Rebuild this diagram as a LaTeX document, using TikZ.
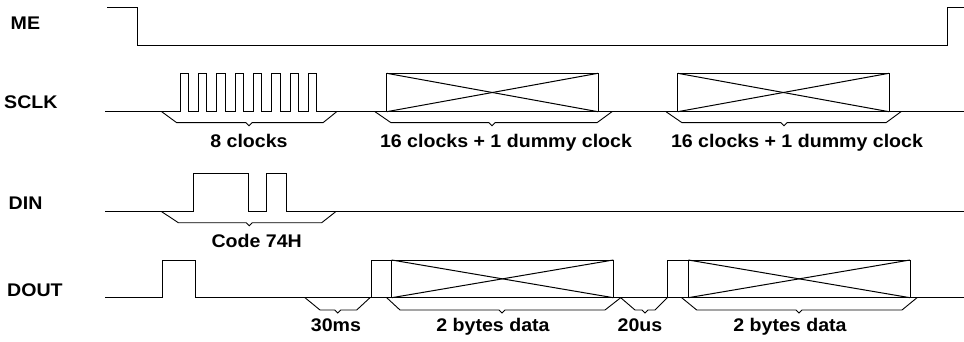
\documentclass[tikz,border=0pt]{standalone}
\usepackage{fontspec}
\setmainfont{Liberation Sans}[FakeStretch=1.07]
\usepackage{tikz}

\tikzset{
	wave/.style={line width=1pt, line join=miter},
	brace/.style={line width=0.9pt},
	signame/.style={font=\bfseries\fontsize{18.3}{21}\selectfont, inner sep=0pt, anchor=base west},
	tag/.style={font=\bfseries\fontsize{18.3}{21}\selectfont, inner sep=0pt, anchor=base}
}

\begin{document}
\begin{tikzpicture}[x=1pt, y=-1pt]
	\useasboundingbox (0, 0) rectangle (964, 342);

	% signal names
	\node (ME) at (10.5, 30) [signame] {ME};
	\node (SCLK) at (4, 109) [signame] {SCLK};
	\node (DIN) at (8.5, 209) [signame] {DIN};
	\node (DOUT) at (7, 296.7) [signame] {DOUT};

	% ME
	\draw [wave] (107, 7.3) -- (137, 7.3) -- (137, 46) -- (947.3, 46) -- (947.3, 7.3) -- (964, 7.3);

	% SCLK
	\draw [wave] (105, 111.7) -- (180, 111.7)
		-- (180, 73.3) -- (188.3, 73.3) -- (188.3, 111.7) -- (198.3, 111.7)
		-- (198.3, 73.3) -- (206.7, 73.3) -- (206.7, 111.7) -- (216.7, 111.7)
		-- (216.7, 73.3) -- (225, 73.3) -- (225, 111.7) -- (235, 111.7)
		-- (235, 73.3) -- (243.3, 73.3) -- (243.3, 111.7) -- (253.3, 111.7)
		-- (253.3, 73.3) -- (261.7, 73.3) -- (261.7, 111.7) -- (271.7, 111.7)
		-- (271.7, 73.3) -- (280, 73.3) -- (280, 111.7) -- (290, 111.7)
		-- (290, 73.3) -- (298.3, 73.3) -- (298.3, 111.7) -- (308.3, 111.7)
		-- (308.3, 73.3) -- (316.7, 73.3) -- (316.7, 111.7) -- (964, 111.7);
	\draw [wave] (386.7, 73.3) rectangle (598, 111.7);
	\draw [wave] (386.7, 73.3) -- (598, 111.7);
	\draw [wave] (386.7, 111.7) -- (598, 73.3);
	\draw [wave] (677.7, 73.3) rectangle (889, 111.7);
	\draw [wave] (677.7, 73.3) -- (889, 111.7);
	\draw [wave] (677.7, 111.7) -- (889, 73.3);

	\draw [brace] (161.7, 111.7) -- (176.7, 122.7) -- (246, 122.7) -- (249, 125.7) -- (252, 122.7) -- (323, 122.7) -- (336.7, 111.7);
	\draw [brace] (375, 111.7) -- (391, 122.7) -- (489, 122.7) -- (492, 125.7) -- (495, 122.7) -- (597, 122.7) -- (612, 111.7);
	\draw [brace] (666, 111.7) -- (682, 122.7) -- (781, 122.7) -- (784, 125.7) -- (787, 122.7) -- (886, 122.7) -- (901, 111.7);
	\node (clk8) at (249, 147.5) [tag] {8 clocks};
	\node (clk16a) at (506, 147.5) [tag] {16 clocks + 1 dummy clock};
	\node (clk16b) at (797, 147.5) [tag] {16 clocks + 1 dummy clock};

	% DIN
	\draw [wave] (105, 211.7) -- (193.3, 211.7) -- (193.3, 173.3) -- (248.3, 173.3) -- (248.3, 211.7)
		-- (266.7, 211.7) -- (266.7, 173.3) -- (286.7, 173.3) -- (286.7, 211.7) -- (964, 211.7);
	\draw [brace] (161.7, 211.7) -- (178.3, 222.7) -- (246.3, 222.7) -- (249.3, 225.7) -- (252.3, 222.7) -- (321.7, 222.7) -- (335.7, 211.7);
	\node (code) at (256.7, 247.5) [tag] {Code 74H};

	% DOUT
	\draw [wave] (105, 297.7) -- (162.3, 297.7) -- (162.3, 260) -- (195.7, 260) -- (195.7, 297.7) -- (964, 297.7);
	\draw [wave] (371, 260) rectangle (613.3, 297.7);
	\draw [wave] (391.7, 260) -- (391.7, 297.7);
	\draw [wave] (391.7, 260) -- (613.3, 297.7);
	\draw [wave] (391.7, 297.7) -- (613.3, 260);
	\draw [wave] (667.7, 260) rectangle (910, 297.7);
	\draw [wave] (688.3, 260) -- (688.3, 297.7);
	\draw [wave] (688.3, 260) -- (910, 297.7);
	\draw [wave] (688.3, 297.7) -- (910, 260);

	\draw [brace] (305, 297.7) -- (320, 310) -- (334.7, 310) -- (337.7, 313) -- (340.7, 310) -- (356.7, 310) -- (370, 297.7);
	\draw [brace] (386.7, 297.7) -- (400, 310) -- (499, 310) -- (502, 313) -- (505, 310) -- (605, 310) -- (620.7, 297.7);
	\draw [brace] (620.7, 297.7) -- (635, 310) -- (642, 310) -- (645, 313) -- (648, 310) -- (655, 310) -- (667.3, 297.7);
	\draw [brace] (681.7, 297.7) -- (696.7, 310) -- (796, 310) -- (799, 313) -- (802, 310) -- (902, 310) -- (917, 297.7);
	\node (ms30) at (336, 331.5) [tag] {30ms};
	\node (data1) at (493, 331.5) [tag] {2 bytes data};
	\node (us20) at (640, 331.5) [tag] {20us};
	\node (data2) at (790, 331.5) [tag] {2 bytes data};
\end{tikzpicture}
\end{document}
